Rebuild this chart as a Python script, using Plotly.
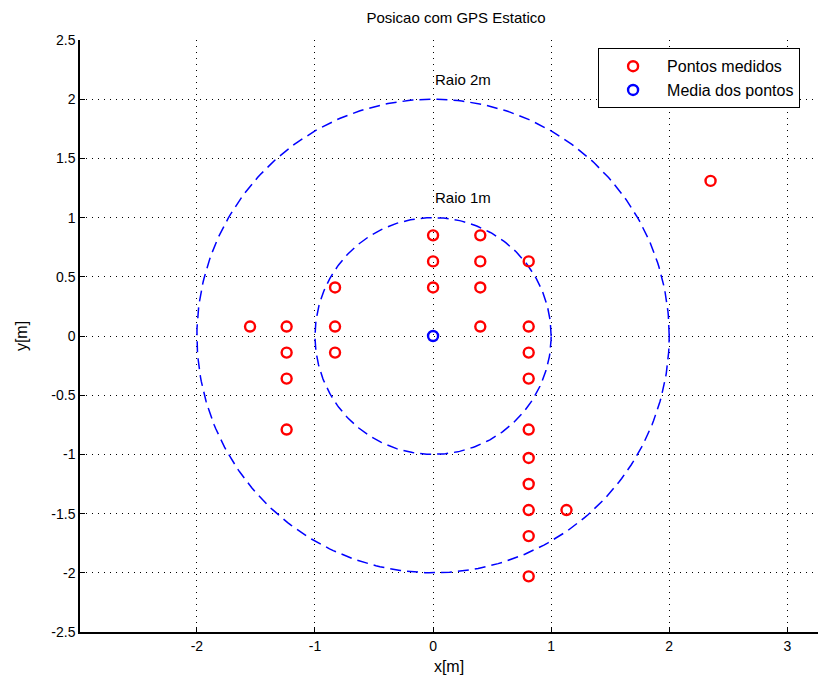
import numpy as np
import plotly.graph_objects as go

# measured points
px = [-1.55, -1.24, -1.24, -1.24, -1.24, -0.83, -0.83, -0.83,
      0.0, 0.0, 0.0, 0.40, 0.40, 0.40, 0.40,
      0.81, 0.81, 0.81, 0.81, 0.81, 0.81, 0.81, 0.81, 0.81, 0.81,
      1.13, 2.35]
py = [0.08, 0.08, -0.14, -0.36, -0.79, 0.41, 0.08, -0.14,
      0.85, 0.63, 0.41, 0.85, 0.63, 0.41, 0.08,
      0.63, 0.08, -0.14, -0.36, -0.79, -1.03, -1.25, -1.47, -1.69, -2.03,
      -1.47, 1.31]
mean_x = [0.0]
mean_y = [0.0]
radii = [1, 2]
radius_labels = ["Raio 1m", "Raio 2m"]

x_ticks = [-2, -1, 0, 1, 2, 3]
x_ticklabels = ["-2", "-1", "0", "1", "2", "3"]
y_ticks = [-2.5, -2, -1.5, -1, -0.5, 0, 0.5, 1, 1.5, 2, 2.5]
y_ticklabels = ["-2.5", "-2", "-1.5", "-1", "-0.5", "0", "0.5", "1", "1.5", "2", "2.5"]

FONT = "Liberation Sans, Arial, sans-serif"

fig = go.Figure()
theta = np.linspace(0, 2 * np.pi, 361)
for r in radii:
    fig.add_trace(go.Scatter(
        x=r * np.cos(theta), y=r * np.sin(theta), mode="lines",
        line=dict(color="#0000ff", width=1.5, dash="11px,6px"),
        showlegend=False, hoverinfo="skip"))

fig.add_trace(go.Scatter(
    x=px, y=py, mode="markers", name="Pontos medidos",
    marker=dict(symbol="circle-open", size=10, color="#ff0000",
                line=dict(width=2.4, color="#ff0000"))))
fig.add_trace(go.Scatter(
    x=mean_x, y=mean_y, mode="markers", name="Media dos pontos",
    marker=dict(symbol="circle-open", size=10, color="#0000ff",
                line=dict(width=2.4, color="#0000ff"))))

for r, lab in zip(radii, radius_labels):
    fig.add_annotation(x=0, y=r + 0.17, text=lab, showarrow=False,
                       xanchor="left", yanchor="middle",
                       font=dict(family=FONT, size=15, color="black"))

axis_common = dict(
    showgrid=True, gridcolor="black", griddash="1.2px,4.8px", gridwidth=1.2,
    zeroline=False, showline=True, linecolor="black", linewidth=1.5,
    ticks="inside", ticklen=5, tickcolor="black", mirror=False,
    tickfont=dict(family=FONT, size=14, color="black"),
)

fig.update_layout(
    width=818, height=684,
    margin=dict(l=80, r=0, t=40, b=52),
    paper_bgcolor="white", plot_bgcolor="white",
    font=dict(family=FONT, size=14, color="black"),
    title=dict(text="Posicao com GPS Estatico", x=456 / 818, xanchor="center",
               y=1 - 18 / 684, yanchor="middle",
               font=dict(family=FONT, size=15, color="black")),
    xaxis=dict(range=[-2.99, 3.26], tickvals=x_ticks, ticktext=x_ticklabels,
               title=dict(text="x[m]", standoff=8, font=dict(family=FONT, size=16)),
               **axis_common),
    yaxis=dict(range=[-2.5, 2.5], tickvals=y_ticks, ticktext=y_ticklabels,
               title=dict(text="y[m]", standoff=20, font=dict(family=FONT, size=16)),
               **axis_common),
    legend=dict(x=0.702, y=0.986, xanchor="left", yanchor="top",
                bordercolor="black", borderwidth=1, bgcolor="white",
                font=dict(family=FONT, size=16, color="black"),
                itemwidth=58, tracegroupgap=0),
    showlegend=True,
)

fig.write_html("out.html")
